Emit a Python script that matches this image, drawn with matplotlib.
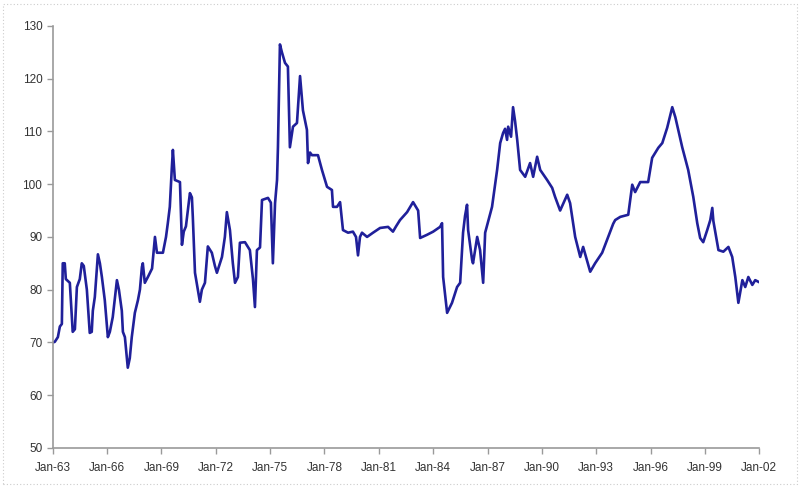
import matplotlib
matplotlib.use("Agg")
import matplotlib.pyplot as plt
from matplotlib.patches import Rectangle

plt.rcParams['font.family'] = ['Liberation Sans', 'DejaVu Sans']

# Decimal year and index value
years = [1963.00, 1963.11, 1963.28, 1963.39, 1963.50, 1963.55, 1963.66, 1963.72, 1963.94, 1964.10,
         1964.22, 1964.33, 1964.49, 1964.60, 1964.71, 1964.88, 1965.04, 1965.15, 1965.21, 1965.32,
         1965.49, 1965.60, 1965.71, 1965.87, 1966.04, 1966.15, 1966.31, 1966.54, 1966.65, 1966.81,
         1966.87, 1966.98, 1967.14, 1967.25, 1967.36, 1967.53, 1967.70, 1967.81, 1967.92, 1967.97,
         1968.08, 1968.25, 1968.48, 1968.64, 1968.75, 1969.08, 1969.25, 1969.35, 1969.46, 1969.57,
         1969.63, 1969.74, 1970.02, 1970.13, 1970.23, 1970.35, 1970.57, 1970.68, 1970.73, 1970.85,
         1971.01, 1971.12, 1971.23, 1971.40, 1971.56, 1971.78, 1971.95, 1972.06, 1972.34, 1972.50,
         1972.61, 1972.78, 1972.94, 1973.06, 1973.22, 1973.33, 1973.61, 1973.88, 1974.05, 1974.16,
         1974.27, 1974.44, 1974.55, 1974.88, 1975.04, 1975.15, 1975.27, 1975.38, 1975.43, 1975.54,
         1975.65, 1975.82, 1975.98, 1976.09, 1976.26, 1976.48, 1976.65, 1976.81, 1977.03, 1977.09,
         1977.20, 1977.31, 1977.64, 1977.86, 1978.14, 1978.41, 1978.47, 1978.69, 1978.86, 1979.02,
         1979.30, 1979.57, 1979.74, 1979.85, 1979.96, 1980.07, 1980.35, 1980.68, 1981.07, 1981.51,
         1981.78, 1981.95, 1982.17, 1982.56, 1982.89, 1983.17, 1983.28, 1983.66, 1984.00, 1984.38,
         1984.49, 1984.55, 1984.77, 1985.04, 1985.32, 1985.49, 1985.65, 1985.76, 1985.87, 1985.93,
         1986.15, 1986.20, 1986.43, 1986.59, 1986.76, 1986.87, 1987.25, 1987.53, 1987.70, 1987.86,
         1987.97, 1988.08, 1988.14, 1988.30, 1988.41, 1988.52, 1988.64, 1988.80, 1989.08, 1989.35,
         1989.52, 1989.74, 1989.91, 1990.29, 1990.57, 1990.73, 1991.01, 1991.40, 1991.56, 1991.84,
         1992.12, 1992.28, 1992.67, 1992.94, 1993.33, 1993.66, 1993.94, 1994.05, 1994.33, 1994.77,
         1994.99, 1995.15, 1995.43, 1995.87, 1996.09, 1996.43, 1996.65, 1996.92, 1997.20, 1997.37,
         1997.75, 1998.08, 1998.36, 1998.58, 1998.74, 1998.91, 1999.13, 1999.30, 1999.41, 1999.47,
         1999.75, 2000.02, 2000.30, 2000.51, 2000.68, 2000.85, 2001.07, 2001.23, 2001.40, 2001.62,
         2001.78, 2001.95]
values = [70.0, 70.1, 71.0, 73.0, 73.5, 85.0, 85.0, 82.0, 81.3, 72.0,
          72.5, 80.5, 82.0, 85.0, 84.5, 80.0, 71.8, 72.0, 76.0, 78.6,
          86.7, 85.0, 82.4, 78.0, 71.0, 72.0, 74.8, 81.8, 80.0, 76.0,
          72.0, 71.0, 65.2, 67.0, 71.0, 75.6, 78.0, 80.0, 84.3, 85.0,
          81.3, 82.4, 84.0, 90.0, 87.0, 87.0, 90.0, 92.6, 95.7, 103.0,
          106.5, 100.8, 100.4, 88.5, 91.0, 92.0, 98.3, 97.5, 93.8, 83.2,
          80.0, 77.7, 80.0, 81.3, 88.2, 87.0, 84.5, 83.2, 86.2, 90.0,
          94.7, 91.3, 85.0, 81.3, 82.4, 88.9, 89.0, 87.5, 82.0, 76.7,
          87.5, 88.0, 97.0, 97.4, 96.5, 85.0, 96.4, 100.8, 107.0, 126.5,
          125.0, 123.0, 122.3, 107.0, 110.9, 111.6, 120.5, 114.0, 110.3, 104.0,
          106.0, 105.5, 105.5, 102.7, 99.5, 98.9, 95.7, 95.7, 96.6, 91.3,
          90.8, 91.0, 90.0, 86.5, 90.0, 90.8, 90.0, 90.8, 91.7, 91.9,
          91.0, 92.0, 93.2, 94.7, 96.6, 95.0, 89.8, 90.4, 91.0, 91.9,
          92.6, 82.4, 75.6, 77.5, 80.5, 81.3, 90.8, 94.0, 96.1, 91.3,
          85.6, 85.0, 90.0, 87.5, 81.3, 90.8, 95.7, 102.7, 107.8, 109.7,
          110.5, 108.4, 110.9, 109.0, 114.6, 112.0, 108.4, 102.7, 101.4, 104.0,
          101.4, 105.2, 102.7, 100.8, 99.3, 97.6, 95.0, 98.0, 96.4, 90.0,
          86.2, 88.1, 83.4, 85.0, 87.0, 90.0, 92.5, 93.2, 93.8, 94.2,
          99.9, 98.5, 100.4, 100.4, 105.0, 106.9, 107.8, 110.7, 114.6, 112.7,
          107.0, 102.7, 97.6, 92.6, 89.8, 89.0, 91.3, 93.2, 95.5, 93.0,
          87.5, 87.2, 88.1, 86.2, 82.4, 77.5, 81.8, 80.5, 82.4, 80.9,
          81.8, 81.5]

tick_years = [1963, 1966, 1969, 1972, 1975, 1978, 1981, 1984, 1987, 1990, 1993, 1996, 1999, 2002]
tick_labels = ["Jan-63", "Jan-66", "Jan-69", "Jan-72", "Jan-75", "Jan-78", "Jan-81",
               "Jan-84", "Jan-87", "Jan-90", "Jan-93", "Jan-96", "Jan-99", "Jan-02"]
y_ticks = [50, 60, 70, 80, 90, 100, 110, 120, 130]

fig = plt.figure(figsize=(8, 4.9), dpi=100)
ax = fig.add_axes([0.066, 0.086, 0.883, 0.861])

ax.plot(years, values, color="#20209a", linewidth=1.9, solid_joinstyle="round")

ax.set_xlim(1963, 2002)
ax.set_ylim(50, 130)
ax.set_xticks(tick_years)
ax.set_xticklabels(tick_labels)
ax.set_yticks(y_ticks)

for s in ["top", "right"]:
    ax.spines[s].set_visible(False)
for s in ["left", "bottom"]:
    ax.spines[s].set_color("#9a9a9a")
    ax.spines[s].set_linewidth(1.2)
ax.tick_params(axis="both", colors="#9a9a9a", length=4, width=1.0, direction="out",
               labelsize=8.5, labelcolor="#333333")
ax.tick_params(axis="x", pad=6)

fig.patches.append(Rectangle((0.004, 0.012), 0.992, 0.98, transform=fig.transFigure,
                             fill=False, edgecolor="#cccccc", linestyle=(0, (1, 2)), linewidth=0.8))

fig.savefig("out.png", dpi=100)
